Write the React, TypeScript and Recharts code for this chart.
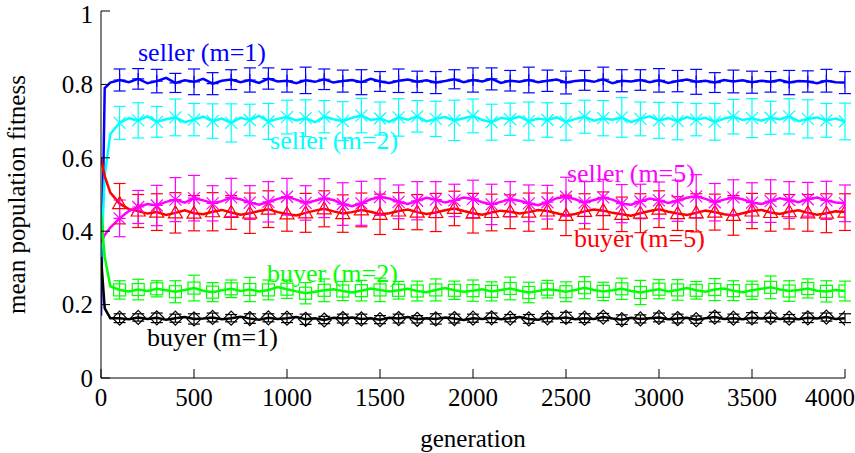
import { ComposedChart, Line, Scatter, ErrorBar, XAxis, YAxis, ReferenceDot } from 'recharts';

const font = '"Liberation Serif", "Times New Roman", serif';

// generation sample points for the averaged curves
const gens = [
  0, 20, 50,
  100, 150, 200, 250, 300, 350, 400, 450, 500, 550,
  600, 650, 700, 750, 800, 850, 900, 950, 1000, 1050,
  1100, 1150, 1200, 1250, 1300, 1350, 1400, 1450, 1500, 1550,
  1600, 1650, 1700, 1750, 1800, 1850, 1900, 1950, 2000, 2050,
  2100, 2150, 2200, 2250, 2300, 2350, 2400, 2450, 2500, 2550,
  2600, 2650, 2700, 2750, 2800, 2850, 2900, 2950, 3000, 3050,
  3100, 3150, 3200, 3250, 3300, 3350, 3400, 3450, 3500, 3550,
  3600, 3650, 3700, 3750, 3800, 3850, 3900, 3950, 4000,
];

const sellerM1 = [
  0.17, 0.79, 0.805,
  0.812, 0.806, 0.815, 0.803, 0.809, 0.818, 0.804, 0.811, 0.807, 0.815,
  0.802, 0.81, 0.813, 0.806, 0.812, 0.804, 0.816, 0.808, 0.81, 0.803,
  0.811, 0.807, 0.814, 0.805, 0.809, 0.812, 0.806, 0.815, 0.808, 0.804,
  0.81, 0.813, 0.807, 0.811, 0.805, 0.809, 0.814, 0.806, 0.812, 0.808,
  0.815, 0.804, 0.81, 0.807, 0.812, 0.806, 0.81, 0.813, 0.805, 0.809,
  0.811, 0.807, 0.814, 0.803, 0.81, 0.808, 0.812, 0.806, 0.811, 0.804,
  0.809, 0.813, 0.807, 0.81, 0.805, 0.812, 0.808, 0.811, 0.806, 0.81,
  0.807, 0.812, 0.805, 0.809, 0.808, 0.803, 0.81, 0.806, 0.805,
];

const sellerM2 = [
  0.32, 0.55, 0.665,
  0.695, 0.708, 0.702, 0.713, 0.698, 0.705, 0.71, 0.697, 0.704, 0.712,
  0.7, 0.707, 0.695, 0.709, 0.703, 0.714, 0.699, 0.706, 0.711, 0.702,
  0.708, 0.697, 0.712, 0.705, 0.7, 0.709, 0.715, 0.703, 0.707, 0.698,
  0.71, 0.704, 0.713, 0.699, 0.706, 0.711, 0.702, 0.708, 0.714, 0.703,
  0.697, 0.709, 0.705, 0.712, 0.7, 0.707, 0.703, 0.71, 0.698, 0.706,
  0.712, 0.701, 0.708, 0.704, 0.71, 0.697, 0.706, 0.713, 0.702, 0.708,
  0.7, 0.711, 0.704, 0.709, 0.698, 0.707, 0.712, 0.703, 0.708, 0.701,
  0.709, 0.705, 0.713, 0.7, 0.706, 0.71, 0.702, 0.707, 0.699,
];

const sellerM5 = [
  0.37, 0.39, 0.41,
  0.435, 0.455, 0.466, 0.474, 0.47, 0.48, 0.486, 0.478, 0.49, 0.484,
  0.476, 0.482, 0.492, 0.487, 0.478, 0.472, 0.48, 0.488, 0.494, 0.486,
  0.477, 0.483, 0.49, 0.485, 0.474, 0.468, 0.476, 0.487, 0.493, 0.489,
  0.48, 0.474, 0.483, 0.491, 0.486, 0.478, 0.484, 0.492, 0.488, 0.479,
  0.473, 0.48, 0.487, 0.483, 0.476, 0.471, 0.479, 0.49, 0.494, 0.487,
  0.478, 0.485, 0.492, 0.486, 0.475, 0.472, 0.481, 0.489, 0.484, 0.477,
  0.483, 0.491, 0.495, 0.488, 0.479, 0.486, 0.492, 0.487, 0.478, 0.474,
  0.482, 0.49, 0.485, 0.479, 0.487, 0.492, 0.484, 0.478, 0.476,
];

const buyerM5 = [
  0.6, 0.55, 0.505,
  0.475, 0.46, 0.455, 0.448, 0.452, 0.444, 0.45, 0.457, 0.449, 0.446,
  0.453, 0.458, 0.451, 0.445, 0.449, 0.455, 0.46, 0.452, 0.447, 0.443,
  0.45, 0.456, 0.461, 0.454, 0.448, 0.452, 0.458, 0.453, 0.446, 0.449,
  0.455, 0.459, 0.452, 0.447, 0.451, 0.457, 0.462, 0.455, 0.449, 0.445,
  0.451, 0.456, 0.453, 0.448, 0.452, 0.458, 0.455, 0.449, 0.443, 0.447,
  0.454, 0.459, 0.456, 0.45, 0.446, 0.442, 0.449, 0.455, 0.46, 0.453,
  0.448, 0.444, 0.45, 0.456, 0.452, 0.446, 0.443, 0.449, 0.455, 0.458,
  0.451, 0.447, 0.453, 0.457, 0.45, 0.445, 0.449, 0.454, 0.452,
];

const buyerM2 = [
  0.45, 0.33, 0.25,
  0.24, 0.236, 0.241, 0.237, 0.243, 0.239, 0.235, 0.24, 0.245, 0.238,
  0.234, 0.239, 0.243, 0.237, 0.241, 0.236, 0.24, 0.248, 0.242, 0.236,
  0.231, 0.235, 0.239, 0.242, 0.237, 0.233, 0.238, 0.244, 0.24, 0.236,
  0.239, 0.243, 0.237, 0.234, 0.24, 0.245, 0.239, 0.235, 0.238, 0.242,
  0.236, 0.24, 0.244, 0.238, 0.233, 0.237, 0.242, 0.239, 0.235, 0.24,
  0.246, 0.24, 0.236, 0.239, 0.243, 0.237, 0.233, 0.238, 0.242, 0.236,
  0.24, 0.245, 0.239, 0.235, 0.241, 0.244, 0.238, 0.234, 0.239, 0.243,
  0.247, 0.241, 0.237, 0.24, 0.244, 0.238, 0.236, 0.24, 0.237,
];

const buyerM1 = [
  0.33, 0.19, 0.163,
  0.163, 0.16, 0.165, 0.161, 0.164, 0.159, 0.163, 0.166, 0.161, 0.162,
  0.165, 0.16, 0.163, 0.167, 0.162, 0.159, 0.164, 0.161, 0.163, 0.166,
  0.16, 0.163, 0.158, 0.164, 0.162, 0.165, 0.161, 0.163, 0.159, 0.164,
  0.162, 0.166, 0.16, 0.163, 0.161, 0.165, 0.162, 0.158, 0.163, 0.161,
  0.164, 0.16, 0.163, 0.166, 0.161, 0.159, 0.164, 0.162, 0.165, 0.16,
  0.163, 0.161, 0.166, 0.162, 0.159, 0.164, 0.161, 0.163, 0.165, 0.16,
  0.162, 0.164, 0.159, 0.163, 0.166, 0.161, 0.163, 0.16, 0.164, 0.162,
  0.165, 0.161, 0.163, 0.16, 0.164, 0.162, 0.166, 0.161, 0.163,
];

// generations where error bars / point symbols are drawn
const markerGens = [
  100, 200, 300, 400, 500, 600, 700, 800, 900, 1000,
  1100, 1200, 1300, 1400, 1500, 1600, 1700, 1800, 1900, 2000,
  2100, 2200, 2300, 2400, 2500, 2600, 2700, 2800, 2900, 3000,
  3100, 3200, 3300, 3400, 3500, 3600, 3700, 3800, 3900, 4000,
];

const errSellerM1 = [
  0.03, 0.028, 0.032, 0.026, 0.035, 0.03, 0.027, 0.033, 0.029, 0.031,
  0.036, 0.028, 0.03, 0.034, 0.027, 0.032, 0.029, 0.03, 0.026, 0.033,
  0.03, 0.028, 0.035, 0.029, 0.031, 0.027, 0.033, 0.03, 0.028, 0.032,
  0.029, 0.034, 0.027, 0.031, 0.03, 0.028, 0.033, 0.029, 0.031, 0.03,
];
const errSellerM2 = [
  0.045, 0.048, 0.042, 0.05, 0.044, 0.047, 0.052, 0.043, 0.049, 0.046,
  0.05, 0.044, 0.053, 0.047, 0.045, 0.051, 0.043, 0.048, 0.055, 0.046,
  0.049, 0.044, 0.052, 0.047, 0.05, 0.045, 0.048, 0.054, 0.046, 0.049,
  0.051, 0.044, 0.05, 0.047, 0.053, 0.045, 0.048, 0.052, 0.046, 0.05,
];
const errSellerM5 = [
  0.05, 0.045, 0.055, 0.06, 0.062, 0.048, 0.052, 0.046, 0.055, 0.05,
  0.047, 0.053, 0.058, 0.06, 0.05, 0.046, 0.052, 0.049, 0.044, 0.051,
  0.055, 0.048, 0.05, 0.046, 0.053, 0.057, 0.049, 0.052, 0.047, 0.05,
  0.056, 0.059, 0.051, 0.048, 0.054, 0.058, 0.05, 0.046, 0.052, 0.05,
];
const errBuyerM5 = [
  0.055, 0.045, 0.05, 0.055, 0.048, 0.052, 0.046, 0.055, 0.05, 0.047,
  0.053, 0.049, 0.051, 0.046, 0.055, 0.05, 0.048, 0.052, 0.047, 0.054,
  0.05, 0.046, 0.052, 0.049, 0.055, 0.048, 0.051, 0.047, 0.053, 0.05,
  0.046, 0.052, 0.049, 0.054, 0.048, 0.051, 0.047, 0.05, 0.053, 0.05,
];
const errBuyerM2 = [
  0.025, 0.028, 0.022, 0.03, 0.035, 0.026, 0.024, 0.033, 0.027, 0.025,
  0.029, 0.031, 0.026, 0.028, 0.032, 0.024, 0.027, 0.03, 0.025, 0.029,
  0.026, 0.031, 0.028, 0.024, 0.027, 0.03, 0.025, 0.029, 0.033, 0.026,
  0.028, 0.024, 0.03, 0.027, 0.025, 0.031, 0.028, 0.026, 0.029, 0.027,
];
const errBuyerM1 = [
  0.012, 0.01, 0.013, 0.011, 0.014, 0.012, 0.01, 0.013, 0.011, 0.012,
  0.014, 0.01, 0.012, 0.013, 0.011, 0.012, 0.01, 0.014, 0.012, 0.011,
  0.013, 0.01, 0.012, 0.011, 0.014, 0.012, 0.01, 0.013, 0.011, 0.012,
  0.012, 0.01, 0.013, 0.011, 0.014, 0.012, 0.01, 0.013, 0.011, 0.012,
];

const xTicks = [0, 500, 1000, 1500, 2000, 2500, 3000, 3500, 4000];
const yTicks = [0, 0.2, 0.4, 0.6, 0.8, 1];

const table = gens.map((g, i) => ({
  gen: g,
  s1: sellerM1[i],
  s2: sellerM2[i],
  s5: sellerM5[i],
  b5: buyerM5[i],
  b2: buyerM2[i],
  b1: buyerM1[i],
}));

const markers = (vals: number[], errs: number[]) =>
  markerGens.map((g, j) => ({ gen: g, y: vals[gens.indexOf(g)], err: errs[j] }));

type MarkProps = { cx?: number; cy?: number };

const PlusMark = ({ cx = 0, cy = 0 }: MarkProps) => (
  <path d={`M${cx - 6},${cy}H${cx + 6}M${cx},${cy - 6}V${cy + 6}`} stroke="#0000ff" strokeWidth={1.2} fill="none" />
);
const CrossMark = ({ cx = 0, cy = 0 }: MarkProps) => (
  <path d={`M${cx - 6},${cy - 6}L${cx + 6},${cy + 6}M${cx - 6},${cy + 6}L${cx + 6},${cy - 6}`} stroke="#00ffff" strokeWidth={1.2} fill="none" />
);
const StarMark = ({ cx = 0, cy = 0 }: MarkProps) => (
  <path
    d={`M${cx - 6},${cy - 6}L${cx + 6},${cy + 6}M${cx - 6},${cy + 6}L${cx + 6},${cy - 6}M${cx - 6},${cy}H${cx + 6}M${cx},${cy - 6}V${cy + 6}`}
    stroke="#ff00ff"
    strokeWidth={1.2}
    fill="none"
  />
);
const TriMark = ({ cx = 0, cy = 0 }: MarkProps) => (
  <path d={`M${cx},${cy - 7}L${cx + 7},${cy + 5}L${cx - 7},${cy + 5}Z`} stroke="#ff0000" strokeWidth={1.2} fill="none" />
);
const BoxMark = ({ cx = 0, cy = 0 }: MarkProps) => (
  <rect x={cx - 6} y={cy - 6} width={12} height={12} stroke="#00ff00" strokeWidth={1.2} fill="none" />
);
const DiamondMark = ({ cx = 0, cy = 0 }: MarkProps) => (
  <path d={`M${cx},${cy - 7}L${cx + 7},${cy}L${cx},${cy + 7}L${cx - 7},${cy}Z`} stroke="#000000" strokeWidth={1.2} fill="none" />
);

const seriesLabels = [
  { text: 'seller (m=1)', gen: 199, val: 0.888, color: '#0000ff' },
  { text: 'seller (m=2)', gen: 909, val: 0.648, color: '#00ffff' },
  { text: 'seller (m=5)', gen: 2505, val: 0.558, color: '#ff00ff' },
  { text: 'buyer (m=5)', gen: 2543, val: 0.381, color: '#ff0000' },
  { text: 'buyer (m=2)', gen: 892, val: 0.286, color: '#00ff00' },
  { text: 'buyer (m=1)', gen: 247, val: 0.109, color: '#000000' },
];

const tickStyle = { fill: '#000', fontSize: 25, fontFamily: font };

export default function App() {
  return (
    <div style={{ position: 'absolute', left: 0, top: 0, width: 855, height: 453, background: '#fff' }}>
      <ComposedChart width={855} height={453} data={table} margin={{ top: 11, right: 10, bottom: 0, left: 0 }}>
        <XAxis
          dataKey="gen"
          type="number"
          domain={[0, 4000]}
          ticks={xTicks}
          allowDataOverflow
          height={75}
          tickSize={-9}
          tickMargin={19}
          stroke="#000"
          tick={tickStyle}
          label={{ value: 'generation', position: 'insideBottom', offset: 6, fill: '#000', fontSize: 25, fontFamily: font }}
        />
        <XAxis xAxisId="top" orientation="top" type="number" domain={[0, 4000]} ticks={xTicks} allowDataOverflow height={0} tickSize={-9} tick={false} stroke="#000" />
        <YAxis
          type="number"
          domain={[0, 1]}
          ticks={yTicks}
          allowDataOverflow
          width={101}
          tickSize={-9}
          tickMargin={17}
          stroke="#000"
          tick={tickStyle}
          label={{ value: 'mean population fitness', angle: -90, position: 'insideLeft', offset: 16, fill: '#000', fontSize: 25, fontFamily: font, style: { textAnchor: 'middle' } }}
        />
        <YAxis yAxisId="right" orientation="right" type="number" domain={[0, 1]} ticks={yTicks} allowDataOverflow width={0} tickSize={-9} tick={false} stroke="#000" />

        <Line dataKey="s1" stroke="#0000ff" strokeWidth={2.5} dot={false} isAnimationActive={false} />
        <Line dataKey="s2" stroke="#00ffff" strokeWidth={2.5} dot={false} isAnimationActive={false} />
        <Line dataKey="b5" stroke="#ff0000" strokeWidth={2.5} dot={false} isAnimationActive={false} />
        <Line dataKey="s5" stroke="#ff00ff" strokeWidth={2.5} dot={false} isAnimationActive={false} />
        <Line dataKey="b2" stroke="#00ff00" strokeWidth={2.5} dot={false} isAnimationActive={false} />
        <Line dataKey="b1" stroke="#000000" strokeWidth={2.5} dot={false} isAnimationActive={false} />

        <Scatter data={markers(sellerM1, errSellerM1)} dataKey="y" shape={PlusMark} isAnimationActive={false}>
          <ErrorBar dataKey="err" direction="y" width={6} stroke="#0000ff" strokeWidth={1.2} />
        </Scatter>
        <Scatter data={markers(sellerM2, errSellerM2)} dataKey="y" shape={CrossMark} isAnimationActive={false}>
          <ErrorBar dataKey="err" direction="y" width={6} stroke="#00ffff" strokeWidth={1.2} />
        </Scatter>
        <Scatter data={markers(buyerM5, errBuyerM5)} dataKey="y" shape={TriMark} isAnimationActive={false}>
          <ErrorBar dataKey="err" direction="y" width={6} stroke="#ff0000" strokeWidth={1.2} />
        </Scatter>
        <Scatter data={markers(sellerM5, errSellerM5)} dataKey="y" shape={StarMark} isAnimationActive={false}>
          <ErrorBar dataKey="err" direction="y" width={6} stroke="#ff00ff" strokeWidth={1.2} />
        </Scatter>
        <Scatter data={markers(buyerM2, errBuyerM2)} dataKey="y" shape={BoxMark} isAnimationActive={false}>
          <ErrorBar dataKey="err" direction="y" width={6} stroke="#00ff00" strokeWidth={1.2} />
        </Scatter>
        <Scatter data={markers(buyerM1, errBuyerM1)} dataKey="y" shape={DiamondMark} isAnimationActive={false}>
          <ErrorBar dataKey="err" direction="y" width={6} stroke="#000000" strokeWidth={1.2} />
        </Scatter>

        {seriesLabels.map((l) => (
          <ReferenceDot
            key={l.text}
            x={l.gen}
            y={l.val}
            r={0}
            ifOverflow="visible"
            fill="none"
            stroke="none"
            label={(p: any) => (
              <text x={p.viewBox.x} y={p.viewBox.y} dominantBaseline="central" fill={l.color} fontSize={26} fontFamily={font}>
                {l.text}
              </text>
            )}
          />
        ))}
      </ComposedChart>
    </div>
  );
}
